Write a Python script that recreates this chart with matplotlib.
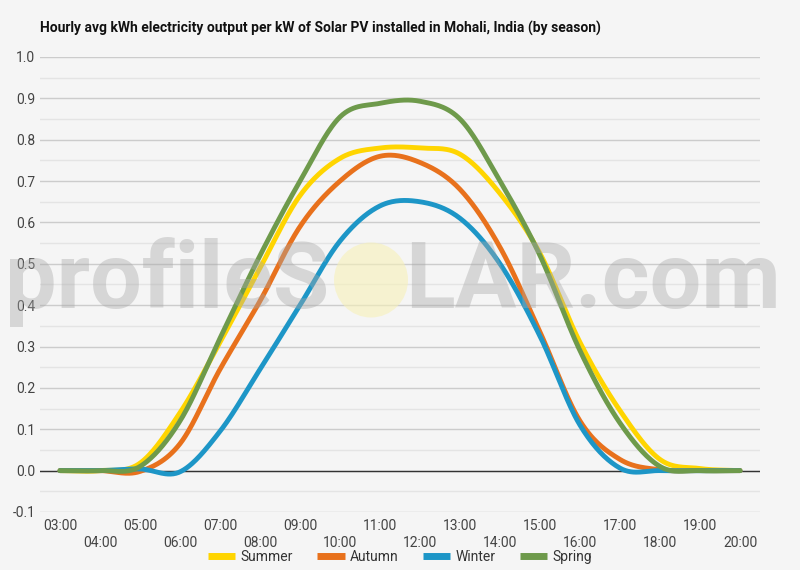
import numpy as np
import matplotlib
matplotlib.use("Agg")
import matplotlib.pyplot as plt
from matplotlib.patches import Ellipse

hours = ["03:00", "04:00", "05:00", "06:00", "07:00", "08:00", "09:00", "10:00", "11:00",
         "12:00", "13:00", "14:00", "15:00", "16:00", "17:00", "18:00", "19:00", "20:00"]
summer = [0.0, 0.0, 0.018, 0.14, 0.31, 0.49, 0.665, 0.755, 0.78, 0.78, 0.765, 0.67, 0.525, 0.31, 0.145, 0.027, 0.005, 0.0]
autumn = [0.0, 0.0, -0.002, 0.065, 0.245, 0.41, 0.59, 0.70, 0.76, 0.745, 0.68, 0.54, 0.335, 0.12, 0.027, 0.002, 0.0, 0.0]
winter = [0.0, 0.0, 0.004, -0.003, 0.095, 0.245, 0.40, 0.555, 0.64, 0.65, 0.61, 0.50, 0.325, 0.11, 0.006, 0.0, 0.0, 0.0]
spring = [0.0, 0.0, 0.01, 0.12, 0.32, 0.52, 0.70, 0.855, 0.888, 0.893, 0.85, 0.70, 0.52, 0.29, 0.115, 0.01, 0.0, 0.0]
series = [("Summer", summer, "#ffd500"), ("Autumn", autumn, "#e8711c"),
          ("Winter", winter, "#1d96c7"), ("Spring", spring, "#6e9a4b")]

BG = "#f5f5f5"
plt.rcParams['font.family'] = ['Roboto', 'DejaVu Sans']

def smooth(y, n=30):
    y = np.asarray(y, float)
    x = np.arange(len(y), dtype=float)
    m = np.zeros_like(y)
    m[1:-1] = (y[2:] - y[:-2]) / 2.0
    m[0] = y[1] - y[0]
    m[-1] = y[-1] - y[-2]
    xs, ys = [], []
    for i in range(len(y) - 1):
        t = np.linspace(0, 1, n, endpoint=False)
        h00 = 2*t**3 - 3*t**2 + 1
        h10 = t**3 - 2*t**2 + t
        h01 = -2*t**3 + 3*t**2
        h11 = t**3 - t**2
        ys.append(h00*y[i] + h10*m[i] + h01*y[i+1] + h11*m[i+1])
        xs.append(x[i] + t)
    xs.append([x[-1]]); ys.append([y[-1]])
    return np.concatenate(xs), np.concatenate(ys)

fig = plt.figure(figsize=(8, 5.7), dpi=100, facecolor=BG)
ax = fig.add_axes([0.05, 0.1018, 0.90, 0.7982])
ax.set_facecolor(BG)

ax.set_ylim(-0.1, 1.0)
ax.set_xlim(-0.5, len(hours) - 0.5)
ax.set_yticks(np.round(np.arange(-0.1, 1.01, 0.1), 1))
ax.set_yticklabels([f"{v:.1f}" for v in np.arange(-0.1, 1.01, 0.1)])
ax.set_yticks(np.arange(-0.05, 1.0, 0.1), minor=True)
ax.grid(True, axis="y", which="major", color="#cccccc", linewidth=1)
ax.grid(True, axis="y", which="minor", color="#e4e4e4", linewidth=1)
ax.axhline(0, color="#333333", linewidth=1, zorder=2)
for s in ax.spines.values():
    s.set_visible(False)
ax.tick_params(axis="both", length=0, labelsize=10, labelcolor="#444444")
ax.tick_params(axis="y", which="minor", length=0)
ax.tick_params(axis="x", pad=5)

ax.set_xticks(range(len(hours)))
ax.set_xticklabels([h if i % 2 == 0 else "\n" + h for i, h in enumerate(hours)], linespacing=1.3)

for name, vals, col in series:
    xs, ys = smooth(vals)
    ax.plot(xs, ys, color=col, linewidth=3.5, label=name, solid_capstyle="round", zorder=3)

# watermark overlay
circ = Ellipse((371/800, 1-280/570), 74/800, 75/570, transform=fig.transFigure,
               facecolor="#f7f1b8", edgecolor="none", alpha=0.6, zorder=5)
fig.patches.append(circ)
fig.text(0.006, 1 - 308/570, "profileS", fontsize=66, fontweight="bold", color="#a8a8a8", alpha=0.4,
         ha="left", va="baseline", zorder=6)
fig.text(0.976, 1 - 308/570, "LAR.com", fontsize=66, fontweight="bold", color="#a8a8a8", alpha=0.4,
         ha="right", va="baseline", zorder=6)

fig.text(0.05, 1 - 28/570, "Hourly avg kWh electricity output per kW of Solar PV installed in Mohali, India (by season)",
         fontsize=10, fontweight="bold", color="#111111", ha="left", va="center")

leg = fig.legend(loc="center", bbox_to_anchor=(0.5, 1 - 557/570), ncol=4, frameon=False,
                 fontsize=10, handlelength=2.0, columnspacing=1.7, handletextpad=0.4,
                 labelcolor="#333333")
for l in leg.get_lines():
    l.set_linewidth(5)
    l.set_solid_capstyle("butt")

fig.savefig("out.png", dpi=100, facecolor=BG)
